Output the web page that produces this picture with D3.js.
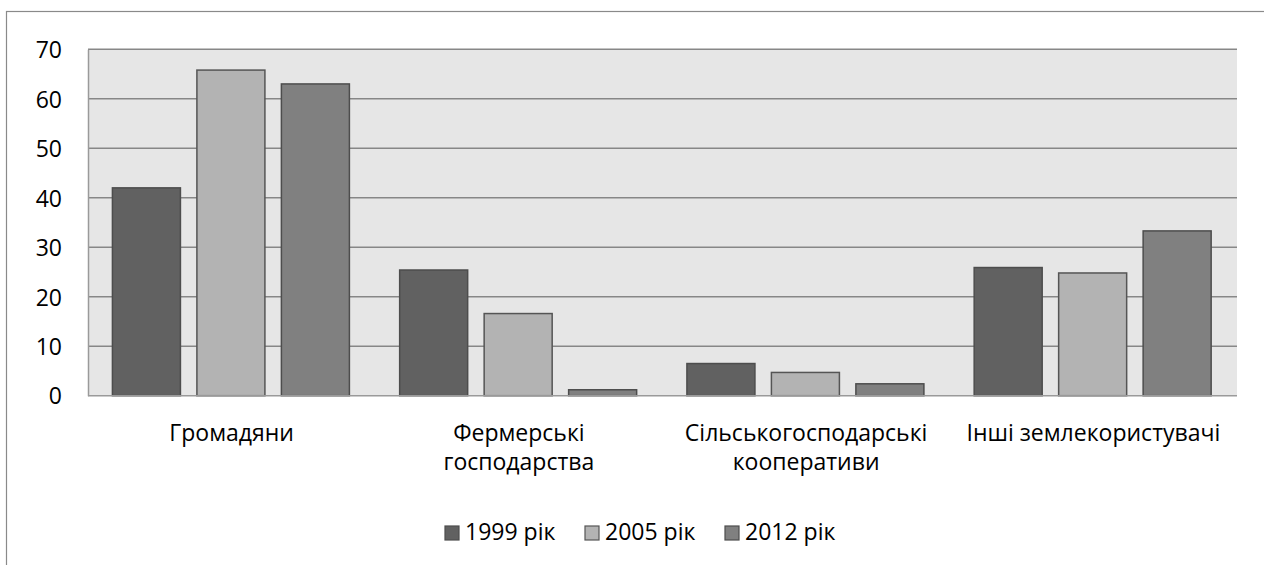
<!DOCTYPE html>
<html>
<head>
<meta charset="utf-8">
<script src="https://cdn.jsdelivr.net/npm/d3@7"></script>
<style>
  html, body { margin: 0; padding: 0; background: #fff; }
  svg { display: block; }
  text { font-family: "Open Sans", "Noto Sans", sans-serif; fill: #000; }
</style>
</head>
<body>
<svg id="chart" width="1264" height="565"></svg>
<script>
// Land users, share by year (%)
const categories = [
  ["Громадяни"],
  ["Фермерські", "господарства"],
  ["Сільськогосподарські", "кооперативи"],
  ["Інші землекористувачі"]
];
const seriesNames = ["1999 рік", "2005 рік", "2012 рік"];
const values1999 = [42.0, 25.4, 6.5, 25.9];
const values2005 = [65.8, 16.6, 4.7, 24.8];
const values2012 = [63.0, 1.2, 2.4, 33.3];
const yTicks = [0, 10, 20, 30, 40, 50, 60, 70];

const fills = ["#616161", "#b3b3b3", "#808080"];
const strokes = ["#4d4d4d", "#555555", "#4d4d4d"];

const svg = d3.select("#chart");
const W = 1264, H = 565;

// outer chart frame (continues past the right and bottom edges)
svg.append("rect")
  .attr("x", 6.5).attr("y", 11.5)
  .attr("width", W + 10).attr("height", H + 10)
  .attr("fill", "#fff").attr("stroke", "#8a8a8a").attr("stroke-width", 1.2);

const plot = { left: 88, right: 1237, top: 49.3, bottom: 395.7 };

const y = d3.scaleLinear().domain([0, 70]).range([plot.bottom, plot.top]);
const catIdx = d3.range(categories.length);
const x0 = d3.scaleBand().domain(catIdx).range([plot.left, plot.right]).padding(0);
const inner = x0.bandwidth();
const x1 = d3.scaleBand().domain(d3.range(seriesNames.length))
  .range([inner * 0.085, inner * 0.91]).paddingInner(0.195).paddingOuter(0);

// plot background
svg.append("rect")
  .attr("x", plot.left).attr("y", plot.top)
  .attr("width", plot.right - plot.left).attr("height", plot.bottom - plot.top)
  .attr("fill", "#e6e6e6");

// horizontal gridlines
svg.append("g")
  .selectAll("line")
  .data(yTicks.filter(d => d > 0))
  .join("line")
  .attr("x1", plot.left).attr("x2", plot.right)
  .attr("y1", d => y(d)).attr("y2", d => y(d))
  .attr("stroke", "#878787").attr("stroke-width", 1.5);

// y axis
const yAxis = d3.axisLeft(y).tickValues(yTicks).tickSize(0).tickPadding(26);
const gy = svg.append("g").attr("transform", `translate(${plot.left},0)`).call(yAxis);
gy.select(".domain").attr("stroke", "#9a9a9a").attr("stroke-width", 1.5);
gy.selectAll(".tick text")
  .attr("font-size", 23).attr("dy", "0.36em")
  .style("font-family", '"Open Sans", "Noto Sans", sans-serif');

// bars
const seriesValues = [values1999, values2005, values2012];
const groups = svg.append("g")
  .selectAll("g")
  .data(catIdx)
  .join("g")
  .attr("transform", i => `translate(${x0(i)},0)`);

groups.selectAll("rect")
  .data(i => seriesValues.map((vals, s) => ({ s, v: vals[i] })))
  .join("rect")
  .attr("x", d => x1(d.s))
  .attr("width", x1.bandwidth())
  .attr("y", d => y(d.v))
  .attr("height", d => y(0) - y(d.v))
  .attr("fill", d => fills[d.s])
  .attr("stroke", d => strokes[d.s])
  .attr("stroke-width", 1.5);

// x axis baseline
svg.append("line")
  .attr("x1", plot.left).attr("x2", plot.right)
  .attr("y1", plot.bottom).attr("y2", plot.bottom)
  .attr("stroke", "#9a9a9a").attr("stroke-width", 1.5);

// category labels
const labels = svg.append("g")
  .selectAll("text")
  .data(catIdx)
  .join("text")
  .attr("x", i => x0(i) + inner / 2)
  .attr("y", 441)
  .attr("text-anchor", "middle")
  .attr("font-size", 23);
labels.selectAll("tspan")
  .data(i => categories[i])
  .join("tspan")
  .attr("x", function () { return d3.select(this.parentNode).attr("x"); })
  .attr("dy", (d, k) => k === 0 ? 0 : 29)
  .text(d => d);

// legend
const legendX = [445, 585, 725];
const legend = svg.append("g")
  .selectAll("g")
  .data(seriesNames)
  .join("g")
  .attr("transform", (d, s) => `translate(${legendX[s]},526)`);
legend.append("rect")
  .attr("width", 14).attr("height", 14)
  .attr("fill", (d, s) => fills[s])
  .attr("stroke", (d, s) => strokes[s])
  .attr("stroke-width", 1.2);
legend.append("text")
  .attr("x", 20).attr("y", 14)
  .attr("font-size", 23)
  .text(d => d);
</script>
</body>
</html>
